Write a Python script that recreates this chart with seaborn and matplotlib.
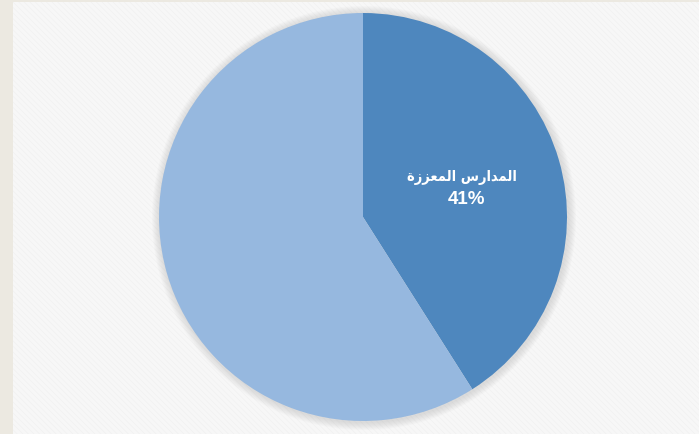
import numpy as np
import pandas as pd
import matplotlib
matplotlib.use("Agg")
import matplotlib.pyplot as plt
import seaborn as sns
from matplotlib.patches import Rectangle, Circle

# data
# arabic name written as presentation forms (logical order), reversed for LTR drawing
name_ar = "\uFE8D\uFEDF\uFEE4\uFEAA\uFE8D\uFEAD\uFEB1 \uFE8D\uFEDF\uFEE4\uFECC\uFEB0\uFEAF\uFE93"
categories = [name_ar, "other"]
shares = [41, 59]
colors = ["#4E87BE", "#96B8DF"]

sns.set_theme(style="white")
plt.rcParams['font.family'] = ['Liberation Sans', 'DejaVu Sans']
plt.rcParams['hatch.linewidth'] = 0.4

fig = plt.figure(figsize=(6.99, 4.35), dpi=100, facecolor="#ECE9E1")

# chart area (px: x 13..699, y 3..435)
bg = Rectangle((13/699, 0), 1 - 13/699, 1 - 3/435, transform=fig.transFigure,
               facecolor="#F7F7F7", edgecolor="#F0F0F0", hatch="\\\\\\\\\\\\",
               linewidth=0, zorder=-5)
fig.patches.append(bg)

ax = fig.add_axes([13/699, 0, 1 - 13/699, 1 - 3/435])
ax.set_zorder(2)
ax.set_facecolor("none")

cx, cy, r = 350, 217, 204

# soft shadow around the pie
for k in range(8, 0, -1):
    ax.add_patch(Circle((cx + 1, cy - 1), r + k, facecolor="#888888", alpha=0.03, edgecolor="none", zorder=0))

df = pd.DataFrame({"cat": categories, "share": shares})
wedges, _ = ax.pie(df["share"], colors=colors, startangle=90, counterclock=False,
                   center=(cx, cy), radius=r, wedgeprops=dict(linewidth=0))

# label inside the first slice
w = wedges[0]
mid = np.deg2rad((w.theta1 + w.theta2) / 2)
lx = cx + 0.52 * r * np.cos(mid)
ly = cy + 0.52 * r * np.sin(mid)
ax.annotate(df["cat"][0][::-1], (lx, ly), xytext=(-2, 8), textcoords="offset points",
            ha="center", va="center", color="white", fontsize=10.5, fontweight="bold",
            family=["DejaVu Sans"], fontstretch="condensed")
ax.annotate(f"{df['share'][0]}%", (lx, ly), xytext=(1, -8), textcoords="offset points",
            ha="center", va="center", color="white", fontsize=13.5, fontweight="bold")

ax.set_xlim(0, 686)
ax.set_ylim(0, 432)
ax.set_aspect("auto")
ax.axis("off")

fig.savefig("out.png", dpi=100, facecolor=fig.get_facecolor())
